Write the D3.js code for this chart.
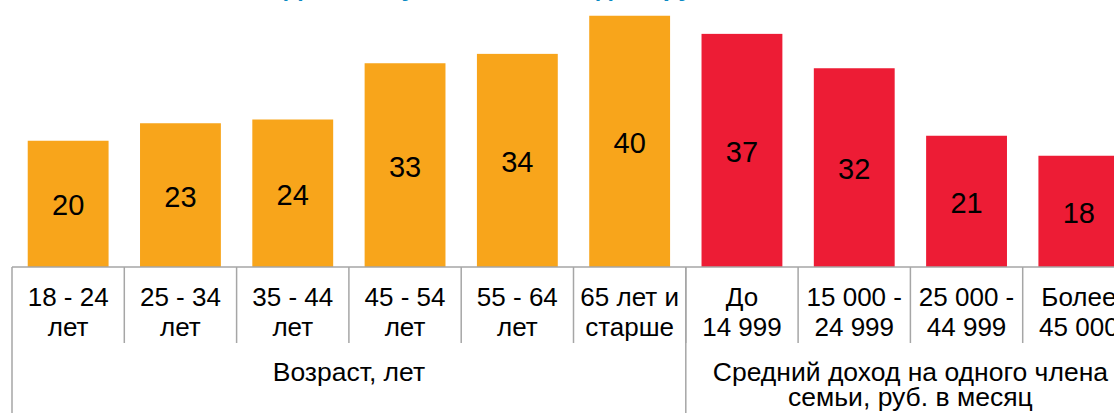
<!DOCTYPE html>
<html>
<head>
<meta charset="utf-8">
<script src="https://cdn.jsdelivr.net/npm/d3@7"></script>
<style>
  body { margin: 0; background: #fff; overflow: hidden; }
  text { font-family: "Liberation Sans", Arial, sans-serif; }
</style>
</head>
<body>
<div id="chart"></div>
<script>
const W = 1114, H = 413;

// data
var ageLabels = [["18 - 24", "лет"], ["25 - 34", "лет"], ["35 - 44", "лет"], ["45 - 54", "лет"], ["55 - 64", "лет"], ["65 лет и", "старше"]];
var ageValues = [20.2, 23.0, 23.6, 32.6, 34.1, 40.2];
var incomeLabels = [["До", "14 999"], ["15 000 -", "24 999"], ["25 000 -", "44 999"], ["Более", "45 000"]];
var incomeValues = [37.3, 31.8, 21.0, 17.8];
var groupNames = [["Возраст, лет"], ["Средний доход на одного члена", "семьи, руб. в месяц"]];
var groupSizes = [ageValues.length, incomeValues.length];
var title = "Доля покупателей в каждой группе, %";

var colors = ["#F8A51B", "#ED1C35"];

// build rows for the bars
var rows = [];
ageValues.forEach(function(v, i) { rows.push({ label: ageLabels[i], value: v, group: 0 }); });
incomeValues.forEach(function(v, i) { rows.push({ label: incomeLabels[i], value: v, group: 1 }); });

var baseY = 267;
var left = 12, step = 112.3;

var x = d3.scaleBand()
    .domain(d3.range(rows.length))
    .range([left, left + step * rows.length])
    .paddingInner(0.28)
    .paddingOuter(0.14);

var y = d3.scaleLinear()
    .domain([0, 40])
    .range([baseY, 17]);

var svg = d3.select("#chart").append("svg")
    .attr("width", W)
    .attr("height", H);

// title, mostly cut off at the top in the source
svg.append("text")
    .attr("x", 530)
    .attr("y", -4)
    .attr("text-anchor", "middle")
    .style("font-size", "26px")
    .style("font-weight", "bold")
    .style("fill", "#0A8AC4")
    .text(title);

// bars
svg.selectAll(".bar")
    .data(rows)
    .enter().append("rect")
    .attr("class", "bar")
    .attr("x", function(d, i) { return x(i); })
    .attr("y", function(d) { return y(d.value); })
    .attr("width", x.bandwidth())
    .attr("height", function(d) { return baseY - y(d.value); })
    .style("fill", function(d) { return colors[d.group]; });

// value labels in the middle of the bars
svg.selectAll(".val")
    .data(rows)
    .enter().append("text")
    .attr("class", "val")
    .attr("x", function(d, i) { return x(i) + x.bandwidth() / 2; })
    .attr("y", function(d) { return (y(d.value) + baseY) / 2 + 1.5; })
    .attr("text-anchor", "middle")
    .attr("dominant-baseline", "central")
    .style("font-size", "29px")
    .style("fill", "#000")
    .text(function(d) { return d3.format(".0f")(d.value); });

// table lines
var lineColor = "#A6A6A6";
var edge = function(i) { return left + step * i; };

svg.append("line")
    .attr("x1", left).attr("x2", W)
    .attr("y1", baseY).attr("y2", baseY)
    .style("stroke", lineColor).style("stroke-width", 1.5);

// short dividers between categories
svg.selectAll(".div")
    .data(d3.range(1, rows.length))
    .enter().append("line")
    .attr("class", "div")
    .attr("x1", edge).attr("x2", edge)
    .attr("y1", baseY).attr("y2", 343)
    .style("stroke", lineColor).style("stroke-width", 1.5);

// long dividers at the group edges
var groupEdges = [0, groupSizes[0]];
svg.selectAll(".gdiv")
    .data(groupEdges)
    .enter().append("line")
    .attr("class", "gdiv")
    .attr("x1", edge).attr("x2", edge)
    .attr("y1", baseY).attr("y2", H)
    .style("stroke", lineColor).style("stroke-width", 1.5);

// category labels
var cat = svg.selectAll(".cat")
    .data(rows)
    .enter().append("text")
    .attr("class", "cat")
    .attr("text-anchor", "middle")
    .style("font-size", "26px")
    .style("fill", "#000");

cat.selectAll("tspan")
    .data(function(d, i) { return d.label.map(function(s) { return { s: s, i: i }; }); })
    .enter().append("tspan")
    .attr("x", function(d) { return edge(d.i) + step / 2; })
    .attr("y", function(d, j) { return 306 + j * 30; })
    .text(function(d) { return d.s; });

// group labels
var start = 0;
groupNames.forEach(function(lines, g) {
    var cx = edge(start + groupSizes[g] / 2);
    var t = svg.append("text")
        .attr("text-anchor", "middle")
        .style("font-size", "26.5px")
        .style("fill", "#000");
    t.selectAll("tspan")
        .data(lines)
        .enter().append("tspan")
        .attr("x", cx)
        .attr("y", function(d, j) { return 381 + j * 24.5; })
        .text(function(d) { return d; });
    start += groupSizes[g];
});
</script>
</body>
</html>
